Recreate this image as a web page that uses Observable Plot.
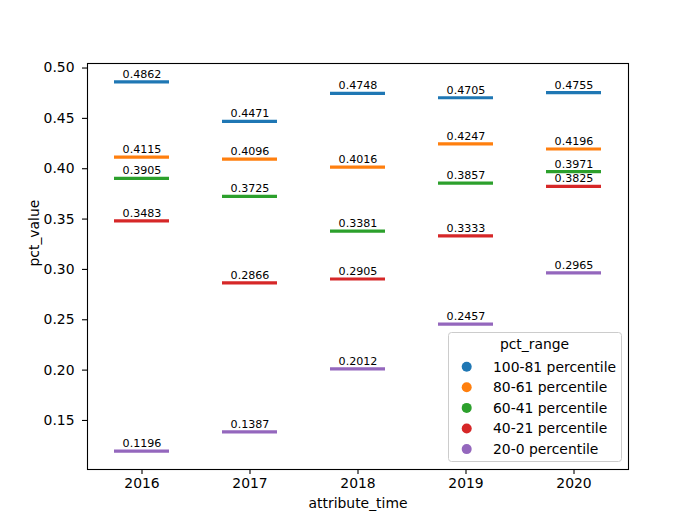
<!DOCTYPE html>
<html>
<head>
<meta charset="utf-8">
<script src="https://cdn.jsdelivr.net/npm/d3@7"></script>
<script src="https://cdn.jsdelivr.net/npm/@observablehq/plot@0.6"></script>
<style>
  html, body { margin: 0; padding: 0; background: white; }
  #chart { width: 698px; height: 527px; }
</style>
</head>
<body>
<div id="chart"></div>
<script>
// Years on the x axis
const years = ["2016", "2017", "2018", "2019", "2020"];

// Percentile groups (legend order) and their colours
const ranges = ["100-81 percentile", "80-61 percentile", "60-41 percentile", "40-21 percentile", "20-0 percentile"];
const colors = ["#1f77b4", "#ff7f0e", "#2ca02c", "#d62728", "#9467bd"];

// Values per percentile group, one per year
const p100_81 = [0.4862, 0.4471, 0.4748, 0.4705, 0.4755];
const p80_61  = [0.4115, 0.4096, 0.4016, 0.4247, 0.4196];
const p60_41  = [0.3905, 0.3725, 0.3381, 0.3857, 0.3971];
const p40_21  = [0.3483, 0.2866, 0.2905, 0.3333, 0.3825];
const p20_0   = [0.1196, 0.1387, 0.2012, 0.2457, 0.2965];

const yTicks = [0.15, 0.20, 0.25, 0.30, 0.35, 0.40, 0.45, 0.50];

const series = [p100_81, p80_61, p60_41, p40_21, p20_0];
const rows = [];
series.forEach((vals, i) => {
  vals.forEach((v, j) => rows.push({year: years[j], range: ranges[i], value: v}));
});

const font = "DejaVu Sans, sans-serif";

const chart = Plot.plot({
  width: 698,
  height: 527,
  marginLeft: 87,
  marginRight: 70,
  marginTop: 63,
  marginBottom: 58,
  style: {fontFamily: font, fontSize: "13.9px", background: "white", color: "black", overflow: "visible"},
  x: {type: "band", domain: years, paddingInner: 0.49, paddingOuter: 0.245, label: null},
  y: {domain: [0.1013, 0.5045], label: null},
  color: {domain: ranges, range: colors},
  marks: [
    Plot.tickY(rows, {x: "year", y: "value", stroke: "range", strokeWidth: 3.2}),
    Plot.text(rows, {x: "year", y: "value", text: d => d.value.toFixed(4), dy: -7.5, fontSize: 11.1, fill: "black"}),
    Plot.frame({stroke: "black", strokeWidth: 1.1}),
    Plot.axisY({ticks: yTicks, tickFormat: d3.format(".2f"), tickSize: 5, tickPadding: 8, fontSize: 13.9, label: null, strokeWidth: 1.1}),
    Plot.axisX({tickSize: 5, tickPadding: 4, fontSize: 13.9, label: null, strokeWidth: 1.1}),
    Plot.text(["pct_value"], {frameAnchor: "left", dx: -53, rotate: -90, fontSize: 13.9, fill: "black"}),
    Plot.text(["attribute_time"], {frameAnchor: "bottom", dy: 38, fontSize: 13.9, fill: "black"})
  ]
});

// Legend box inside the lower-right corner of the plot area
const svg = d3.select(chart);
const lg = svg.append("g").attr("font-family", font).attr("font-size", 13.9).attr("fill", "black");
lg.append("rect")
  .attr("x", 448.5).attr("y", 332.5).attr("width", 173).attr("height", 129)
  .attr("rx", 3).attr("fill", "white").attr("fill-opacity", 0.8)
  .attr("stroke", "#cccccc").attr("stroke-width", 1);
lg.append("text").attr("x", 534.5).attr("y", 348.5).attr("text-anchor", "middle").text("pct_range");
ranges.forEach((r, i) => {
  const cy = 366.7 + i * 20.6;
  lg.append("circle").attr("cx", 466.7).attr("cy", cy).attr("r", 5).attr("fill", colors[i]).attr("stroke", "none");
  lg.append("text").attr("x", 493).attr("y", cy + 4.8).attr("text-anchor", "start").text(r);
});

document.getElementById("chart").appendChild(chart);
</script>
</body>
</html>
